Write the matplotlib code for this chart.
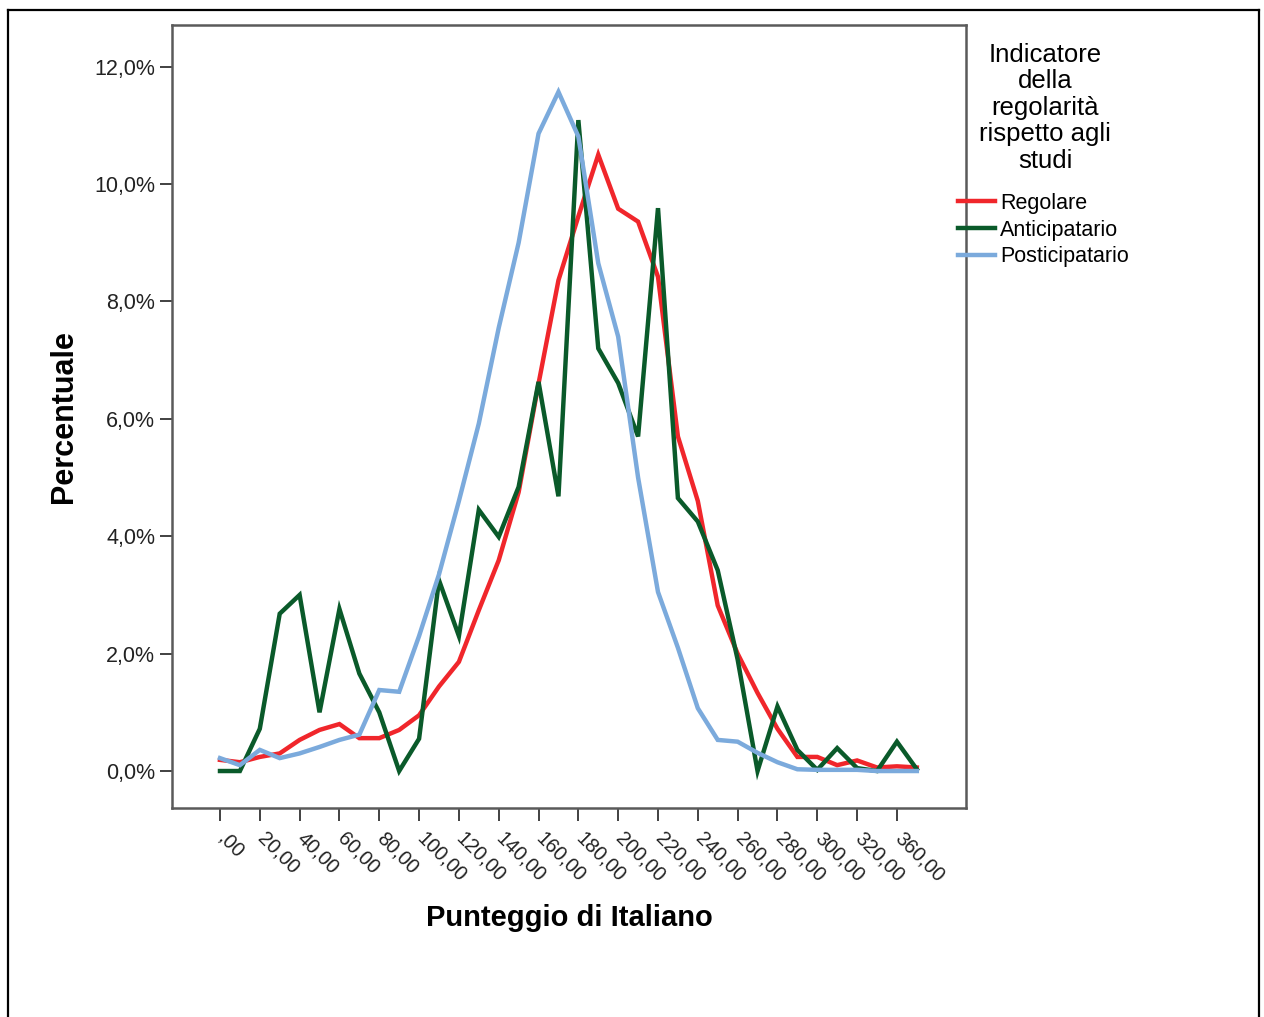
import matplotlib
matplotlib.use("Agg")
import matplotlib.pyplot as plt
import matplotlib.transforms as mtransforms
from matplotlib.lines import Line2D

plt.rcParams['font.family'] = ['Liberation Sans', 'DejaVu Sans']

# 36 score classes on a categorical axis, labels on every other class
n_classes = 36
tick_labels = [",00", "20,00", "40,00", "60,00", "80,00", "100,00", "120,00",
               "140,00", "160,00", "180,00", "200,00", "220,00", "240,00",
               "260,00", "280,00", "300,00", "320,00", "360,00"]

regolare = [0.19, 0.15, 0.24, 0.30, 0.53, 0.70, 0.80, 0.56, 0.56, 0.70,
            0.95, 1.44, 1.86, 2.74, 3.59, 4.75, 6.60, 8.36, 9.45, 10.50,
            9.58, 9.36, 8.42, 5.70, 4.60, 2.82, 2.00, 1.33, 0.72, 0.24,
            0.24, 0.10, 0.18, 0.06, 0.08, 0.06]
anticipatario = [0.0, 0.0, 0.72, 2.68, 3.00, 1.00, 2.76, 1.66, 1.00, 0.0,
                 0.55, 3.25, 2.30, 4.45, 3.99, 4.84, 6.63, 4.68, 11.09, 7.20,
                 6.61, 5.70, 9.59, 4.65, 4.25, 3.42, 1.90, 0.0, 1.10, 0.36,
                 0.02, 0.39, 0.05, 0.0, 0.50, 0.03]
posticipatario = [0.22, 0.10, 0.36, 0.22, 0.30, 0.41, 0.53, 0.62, 1.38, 1.35,
                  2.30, 3.35, 4.60, 5.92, 7.55, 9.00, 10.86, 11.57, 10.81, 8.65,
                  7.40, 5.00, 3.05, 2.10, 1.07, 0.53, 0.50, 0.31, 0.15, 0.03,
                  0.02, 0.02, 0.02, 0.0, 0.0, 0.0]

series = [("Regolare", regolare, "#f0262b"),
          ("Anticipatario", anticipatario, "#0a5a2a"),
          ("Posticipatario", posticipatario, "#7baadc")]

fig = plt.figure(figsize=(12.64, 10.17), dpi=100)
ax = fig.add_axes([172 / 1264, 1 - 808 / 1017, 794 / 1264, 783 / 1017])

x = list(range(n_classes))
for name, vals, col in series:
    ax.plot(x, vals, color=col, lw=3.2, label=name, solid_joinstyle='miter')

ax.set_xlim(-2.41, 37.47)
ax.set_ylim(-0.63, 12.71)

ax.set_yticks([0, 2, 4, 6, 8, 10, 12])
ax.set_yticklabels(["%d,0%%" % v for v in [0, 2, 4, 6, 8, 10, 12]], fontsize=15.5)
ax.set_xticks(x[::2])
ax.set_xticklabels(tick_labels, rotation=-45, ha='left', va='top', fontsize=14.5)
ax.tick_params(axis='both', direction='out', length=9, width=1.3, color='#333333',
               labelcolor='#222222')
ax.tick_params(axis='y', pad=3)
ax.tick_params(axis='x', pad=6)
# nudge the slanted labels a little to the left (after tick_params, which resets transforms)
shift = mtransforms.ScaledTranslation(-6 / 100, 0, fig.dpi_scale_trans)
for lab in ax.get_xticklabels():
    lab.set_transform(lab.get_transform() + shift)

for sp in ax.spines.values():
    sp.set_color('#5a5a5a')
    sp.set_linewidth(1.8)

ax.set_xlabel("Punteggio di Italiano", fontsize=21, fontweight='bold')
ax.xaxis.set_label_coords(0.5, -0.123)
ax.set_ylabel("Percentuale", fontsize=22, fontweight='bold')
ax.yaxis.set_label_coords(-0.117, 0.5)

fig.text(1045 / 1264, 1 - 43 / 1017,
         "Indicatore\ndella\nregolarità\nrispetto agli\nstudi",
         ha='center', va='top', multialignment='center',
         fontsize=18.5, linespacing=1.13)

ax.legend(loc='upper left', bbox_to_anchor=(958 / 1264, 1 - 193 / 1017),
          bbox_transform=fig.transFigure, frameon=False, fontsize=15.5,
          handlelength=1.7, handletextpad=0.25,
          labelspacing=0.26, borderpad=0, borderaxespad=0)

# outer border of the picture (bottom edge is cut off)
for xs, ys in [([8, 8], [1017, 10]), ([8, 1259], [10, 10]), ([1259, 1259], [10, 1017])]:
    fig.add_artist(Line2D([v / 1264 for v in xs], [1 - v / 1017 for v in ys],
                          color='black', lw=1.6, transform=fig.transFigure))

fig.savefig("out.png", dpi=100)
